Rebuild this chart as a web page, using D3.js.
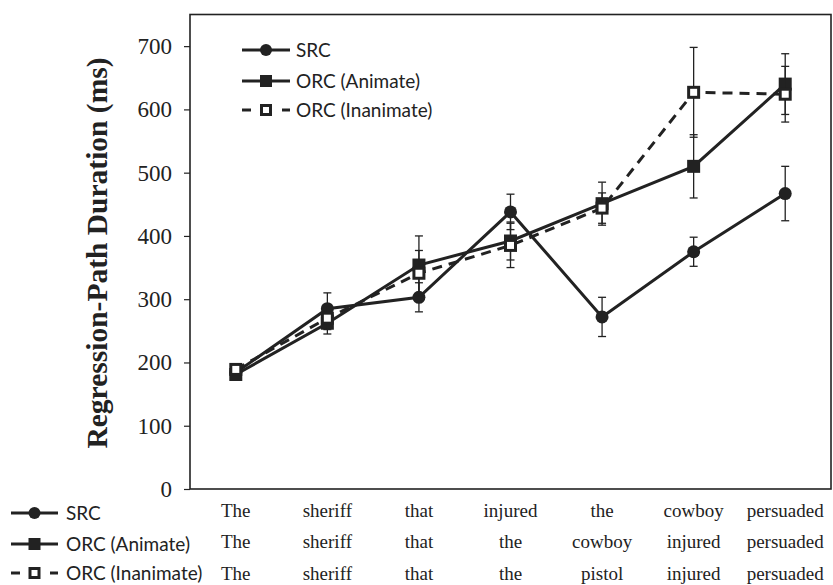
<!DOCTYPE html>
<html>
<head>
<meta charset="utf-8">
<script src="https://cdn.jsdelivr.net/npm/d3@7/dist/d3.min.js"></script>
<style>
  html, body { margin: 0; padding: 0; background: #fff; }
  svg { display: block; }
  .tick text, .xlab { font-family: 'Times New Roman', 'Liberation Serif', serif; fill: #222; }
  .ytitle { font-family: 'Times New Roman', 'Liberation Serif', serif; font-weight: bold; fill: #222; }
  .leg { font-family: Lato, 'Open Sans', sans-serif; fill: #222; }
</style>
</head>
<body>
<div id="chart"></div>
<script>
const regions = ['R1', 'R2', 'R3', 'R4', 'R5', 'R6', 'R7'];
const srcWords = ['The', 'sheriff', 'that', 'injured', 'the', 'cowboy', 'persuaded'];
const orcAnimWords = ['The', 'sheriff', 'that', 'the', 'cowboy', 'injured', 'persuaded'];
const orcInanWords = ['The', 'sheriff', 'that', 'the', 'pistol', 'injured', 'persuaded'];

const srcMeans = [184, 285, 303, 438, 272, 375, 467];
const srcErr = [6, 25, 23, 28, 31, 23, 43];
const orcAnimMeans = [181, 262, 354, 392, 451, 510, 640];
const orcAnimErr = [6, 17, 46, 30, 34, 50, 48];
const orcInanMeans = [189, 270, 341, 385, 444, 627, 624];
const orcInanErr = [6, 18, 36, 35, 24, 71, 44];

const yTicks = [0, 100, 200, 300, 400, 500, 600, 700];

const series = [
  { name: 'SRC', means: srcMeans, err: srcErr, words: srcWords, marker: 'circle', dashed: false },
  { name: 'ORC (Animate)', means: orcAnimMeans, err: orcAnimErr, words: orcAnimWords, marker: 'square', dashed: false },
  { name: 'ORC (Inanimate)', means: orcInanMeans, err: orcInanErr, words: orcInanWords, marker: 'open', dashed: true },
];

const width = 833, height = 585;
const plot = { left: 190, right: 831, top: 14.5, bottom: 489 };
const ink = '#222';

const svg = d3.select('#chart').append('svg')
  .attr('width', width)
  .attr('height', height);

const x = d3.scaleBand().domain(regions).range([plot.left, plot.right]);
const y = d3.scaleLinear().domain([0, 750]).range([plot.bottom, plot.top]);
const cx = r => x(r) + x.bandwidth() / 2;

// frame
svg.append('rect')
  .attr('x', plot.left).attr('y', plot.top)
  .attr('width', plot.right - plot.left).attr('height', plot.bottom - plot.top)
  .attr('fill', 'none').attr('stroke', ink).attr('stroke-width', 1.6);

// y axis
const yAxis = svg.append('g')
  .attr('transform', `translate(${plot.left},0)`)
  .call(d3.axisLeft(y).tickValues(yTicks).tickSize(6).tickPadding(12));
yAxis.select('.domain').remove();
yAxis.selectAll('.tick line').attr('stroke', ink).attr('stroke-width', 1.2);
yAxis.selectAll('.tick text').attr('font-size', 23).attr('fill', ink);

svg.append('text')
  .attr('class', 'ytitle')
  .attr('transform', `translate(107,253) rotate(-90)`)
  .attr('text-anchor', 'middle')
  .attr('font-size', 29.5)
  .text('Regression-Path Duration (ms)');

function drawMarker(g, kind, px, py, size) {
  if (kind === 'circle') {
    g.append('circle').attr('cx', px).attr('cy', py).attr('r', size / 2).attr('fill', ink);
  } else if (kind === 'square') {
    g.append('rect').attr('x', px - size / 2).attr('y', py - size / 2)
      .attr('width', size).attr('height', size).attr('fill', ink);
  } else {
    const s = size - 3;
    g.append('rect').attr('x', px - s / 2).attr('y', py - s / 2)
      .attr('width', s).attr('height', s)
      .attr('fill', '#fff').attr('stroke', ink).attr('stroke-width', 3);
  }
}

const line = d3.line().x((d, i) => cx(regions[i])).y(d => y(d));

for (const s of series) {
  const g = svg.append('g');

  // error bars
  s.means.forEach((m, i) => {
    const px = cx(regions[i]);
    const lo = y(m - s.err[i]), hi = y(m + s.err[i]);
    g.append('line').attr('x1', px).attr('x2', px).attr('y1', lo).attr('y2', hi)
      .attr('stroke', ink).attr('stroke-width', 1.3);
    for (const yy of [lo, hi]) {
      g.append('line').attr('x1', px - 4).attr('x2', px + 4).attr('y1', yy).attr('y2', yy)
        .attr('stroke', ink).attr('stroke-width', 1.3);
    }
  });

  g.append('path')
    .datum(s.means)
    .attr('d', line)
    .attr('fill', 'none')
    .attr('stroke', ink)
    .attr('stroke-width', 3)
    .attr('stroke-dasharray', s.dashed ? '10,7' : null);

  s.means.forEach((m, i) => drawMarker(g, s.marker, cx(regions[i]), y(m), 13));
}

// legend sample: line + marker
function legendSample(g, s, x0, x1, yy) {
  const mid = (x0 + x1) / 2;
  if (s.dashed) {
    g.append('line').attr('x1', x0).attr('x2', x0 + 9).attr('y1', yy).attr('y2', yy)
      .attr('stroke', ink).attr('stroke-width', 3);
    g.append('line').attr('x1', x1 - 8).attr('x2', x1).attr('y1', yy).attr('y2', yy)
      .attr('stroke', ink).attr('stroke-width', 3);
  } else {
    g.append('line').attr('x1', x0).attr('x2', x1).attr('y1', yy).attr('y2', yy)
      .attr('stroke', ink).attr('stroke-width', 3);
  }
  drawMarker(g, s.marker, mid, yy, 12);
}

// inner legend
const legIn = svg.append('g');
const legInY = [50, 81, 110];
series.forEach((s, i) => {
  legendSample(legIn, s, 242, 290, legInY[i]);
  legIn.append('text').attr('class', 'leg')
    .attr('x', 296).attr('y', legInY[i]).attr('dy', '0.35em')
    .attr('font-size', 19)
    .text(s.name);
});

// bottom legend + word labels
const legRowY = [513, 544, 573];
const wordBaseY = [517, 548, 580];
const legOut = svg.append('g');
series.forEach((s, i) => {
  legendSample(legOut, s, 11, 58, legRowY[i]);
  legOut.append('text').attr('class', 'leg')
    .attr('x', 66).attr('y', legRowY[i]).attr('dy', '0.35em')
    .attr('font-size', 19)
    .text(s.name);

  svg.append('g').selectAll('text')
    .data(s.words)
    .join('text')
    .attr('class', 'xlab')
    .attr('x', (d, j) => cx(regions[j]))
    .attr('y', wordBaseY[i])
    .attr('text-anchor', 'middle')
    .attr('font-size', 19)
    .text(d => d);
});
</script>
</body>
</html>
